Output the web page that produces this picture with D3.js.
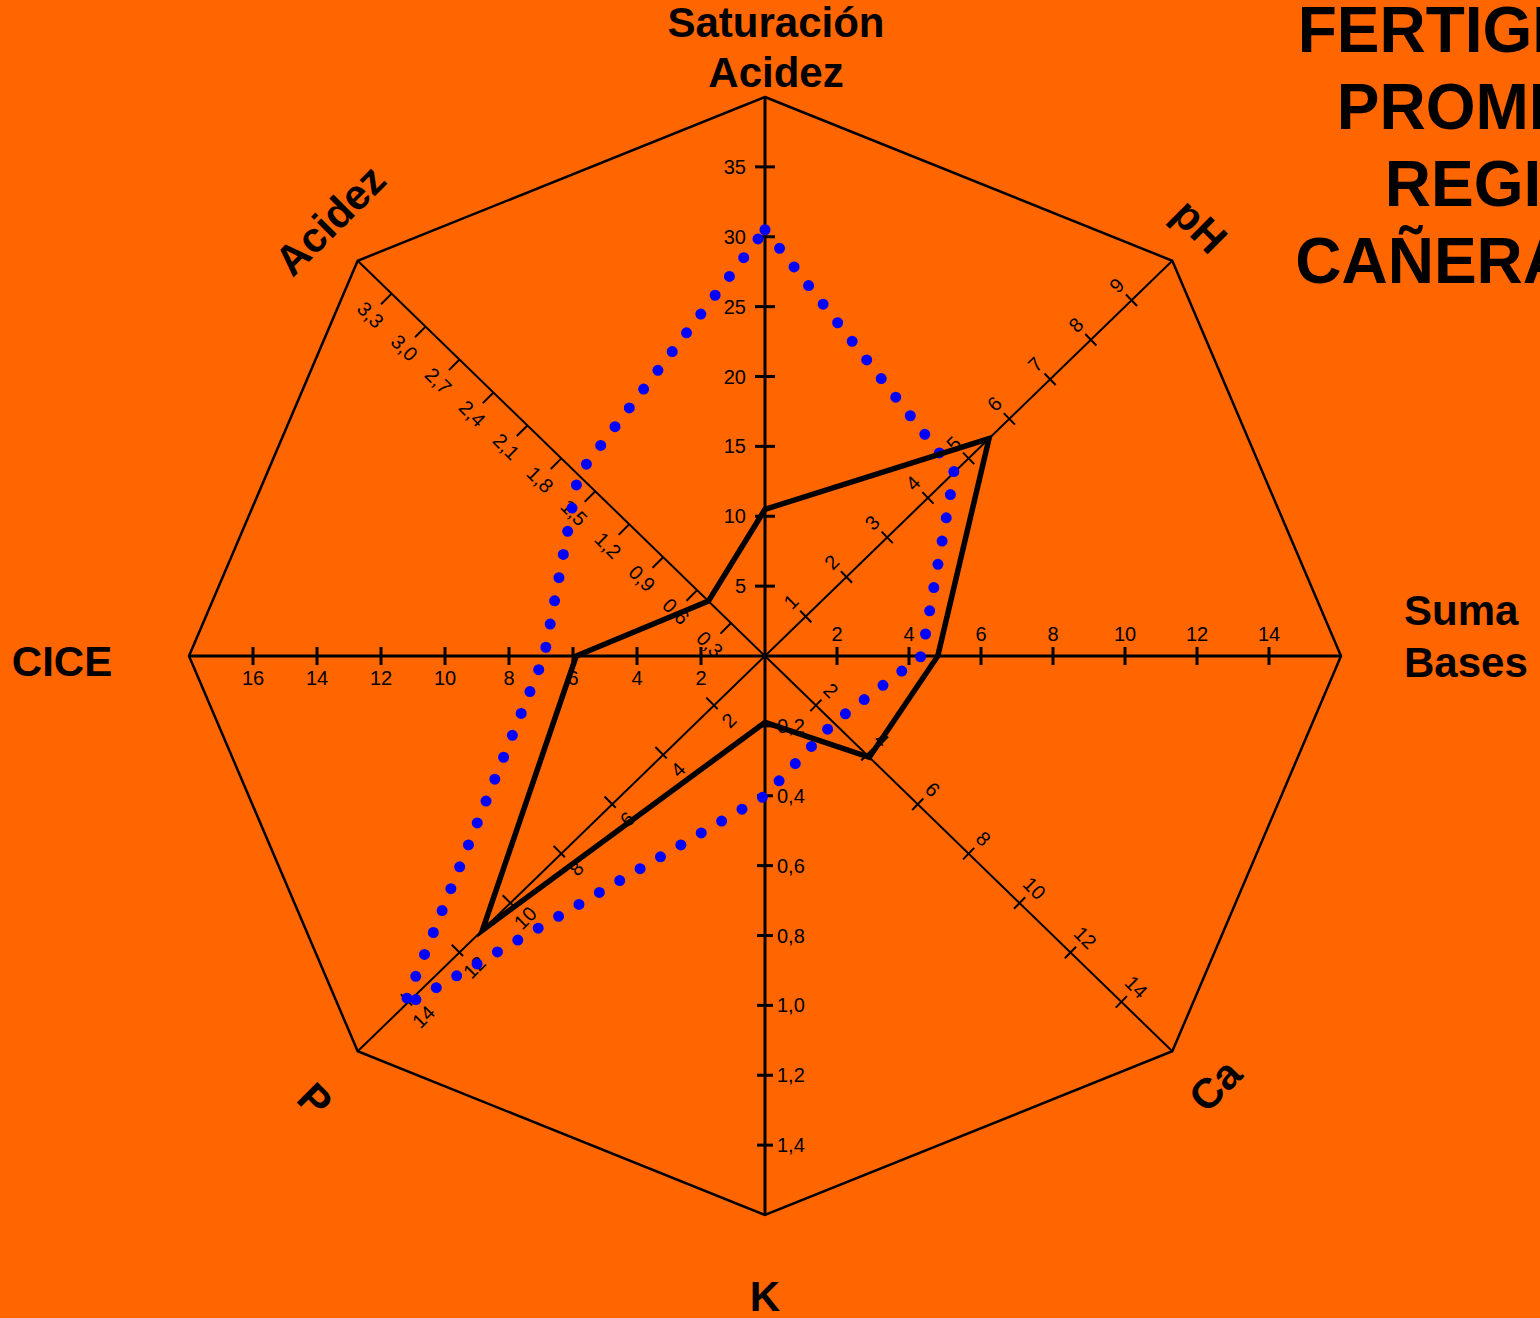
<!DOCTYPE html>
<html><head><meta charset="utf-8">
<script src="https://cdn.jsdelivr.net/npm/d3@7"></script>
<style>
html,body{margin:0;padding:0;background:#FF6600;overflow:hidden}
svg{display:block}
</style></head>
<body>
<script>
// ---- data ----
const categories = ["Saturación Acidez","pH","Suma Bases","Ca","K","P","CICE","Acidez"];
const axisMax    = [40, 10, 16, 16, 1.6, 16, 18, 3.6];
const tickValues = [
  [5,10,15,20,25,30,35],
  [1,2,3,4,5,6,7,8,9],
  [2,4,6,8,10,12,14],
  [2,4,6,8,10,12,14],
  [0.2,0.4,0.6,0.8,1.0,1.2,1.4],
  [2,4,6,8,10,12,14],
  [2,4,6,8,10,12,14,16],
  [0.3,0.6,0.9,1.2,1.5,1.8,2.1,2.4,2.7,3.0,3.3]
];
const seriesBlack = [10.5, 5.5, 4.8, 4.1, 0.19, 11.1, 5.9, 0.5];
const seriesBlue  = [30.5, 4.65, 4.35, 2.7, 0.40, 14.2, 6.9, 1.65];
const titleLines  = ["FERTIGRAMA","PROMEDIO","REGIÓN","CAÑERA 2019"];

// ---- layout ----
const W = 1540, H = 1318;
const cx = 765, cy = 656;
const rx = 576, ry = 559;
const angles = d3.range(8).map(i => -Math.PI/2 + i*Math.PI/4);
const vert = angles.map(a => [rx*Math.cos(a), ry*Math.sin(a)]);
const scales = axisMax.map(m => d3.scaleLinear().domain([0,m]).range([0,1]));
function pos(i, v){ const t = scales[i](v); return [cx + t*vert[i][0], cy + t*vert[i][1]]; }
const fmtDec = v => d3.format(".1f")(v).replace(".", ",");

const svg = d3.select("body").append("svg").attr("width",W).attr("height",H);
svg.append("rect").attr("width",W).attr("height",H).attr("fill","#FF6600");

// octagon
svg.append("path")
  .attr("d", d3.line()(vert.map(v=>[cx+v[0],cy+v[1]])) + "Z")
  .attr("fill","none").attr("stroke","#000").attr("stroke-width",2.5).attr("stroke-linejoin","miter");

const axCfg = [
  {w:3, t:[-10,10]},
  {w:2, t:[-8,8]},
  {w:3, t:[-9,9]},
  {w:2, t:[-8,8]},
  {w:3, t:[-8,8]},
  {w:2, t:[-11,5]},
  {w:3, t:[-9,9]},
  {w:2, t:[-15,0]}
];
const tickFont = "'Liberation Sans Narrow','Liberation Sans',Arial,sans-serif";
categories.forEach((c,i)=>{
  const g = svg.append("g");
  const end = pos(i, axisMax[i]);
  g.append("line").attr("x1",cx).attr("y1",cy).attr("x2",end[0]).attr("y2",end[1])
    .attr("stroke","#000").attr("stroke-width",axCfg[i].w);
  const len = Math.hypot(vert[i][0],vert[i][1]);
  const ux = vert[i][0]/len, uy = vert[i][1]/len;
  const nx = -uy, ny = ux;
  tickValues[i].forEach(v=>{
    const p = pos(i,v);
    let a = axCfg[i].t[0], b = axCfg[i].t[1];
    let n = [nx,ny];
    if(i===7){ n=[-0.7071,0.7071]; a=0; b=15; }
    if(i===5){ n=[0.7071,0.7071]; a=-11; b=5; }
    g.append("line")
      .attr("x1",p[0]+n[0]*a).attr("y1",p[1]+n[1]*a)
      .attr("x2",p[0]+n[0]*b).attr("y2",p[1]+n[1]*b)
      .attr("stroke","#000").attr("stroke-width",axCfg[i].w);
    const label = (i===4||i===7) ? fmtDec(v) : String(v);
    const t = g.append("text").text(label)
      .attr("font-family",tickFont).attr("font-size",20).attr("fill","#000");
    if(i===0){ t.attr("x",cx-19).attr("y",p[1]).attr("dy","0.35em").attr("text-anchor","end"); }
    else if(i===2){ t.attr("x",p[0]).attr("y",cy-15).attr("text-anchor","middle"); }
    else if(i===6){ t.attr("x",p[0]).attr("y",cy+29).attr("text-anchor","middle"); }
    else if(i===4){ t.attr("x",cx+12).attr("y",p[1]).attr("dy","0.35em").attr("text-anchor","start"); }
    else {
      let off, rot;
      if(i===1){ off=[-0.7071,-0.7071]; rot=-45; }
      if(i===3){ off=[0.7071,-0.7071]; rot=45; }
      if(i===5){ off=[0.7071,0.7071]; rot=-45; }
      if(i===7){ off=[-0.7071,0.7071]; rot=45; }
      const d = (i===7)?30:21;
      const lx = p[0]+off[0]*d, ly = p[1]+off[1]*d;
      t.attr("text-anchor","middle").attr("dy","0.35em")
       .attr("transform",`translate(${lx},${ly}) rotate(${rot})`);
    }
  });
});

// series
const lineGen = d3.line();
const ptsBlack = seriesBlack.map((v,i)=>pos(i,v));
const ptsBlue  = seriesBlue.map((v,i)=>pos(i,v));
svg.append("path").attr("d", lineGen(ptsBlue)+"Z")
  .attr("fill","none").attr("stroke","#0000FF").attr("stroke-width",11)
  .attr("stroke-linecap","round").attr("stroke-dasharray","0 23.6");
svg.append("path").attr("d", lineGen(ptsBlack)+"Z")
  .attr("fill","none").attr("stroke","#000").attr("stroke-width",5.5)
  .attr("stroke-linejoin","miter");

// axis titles
const tf = "'Liberation Sans',Arial,sans-serif";
function title(txt,x,y,rot,anchor,dy){
  svg.append("text").text(txt).attr("font-family",tf).attr("font-weight","bold")
    .attr("font-size",42).attr("text-anchor",anchor||"middle").attr("dy",dy||0)
    .attr("transform",`translate(${x},${y}) rotate(${rot||0})`);
}
title("Saturación",776,37);
title("Acidez",776,87);
title("Suma",1404,625,0,"start");
title("Bases",1404,677,0,"start");
title("CICE",62,676);
title("K",765,1311);
title("Acidez",330,220,-45,"middle","0.35em");
title("pH",1200,226,45,"middle","0.35em");
title("Ca",1215,1085,-45,"middle","0.35em");
title("P",315,1100,45,"middle","0.35em");

// main title
titleLines.forEach((l,k)=>{
  svg.append("text").text(l).attr("x",1511).attr("y",52+k*77)
    .attr("font-family",tf).attr("font-weight","bold").attr("font-size",64)
    .attr("text-anchor","middle").attr("fill","#000");
});
</script>
</body></html>
